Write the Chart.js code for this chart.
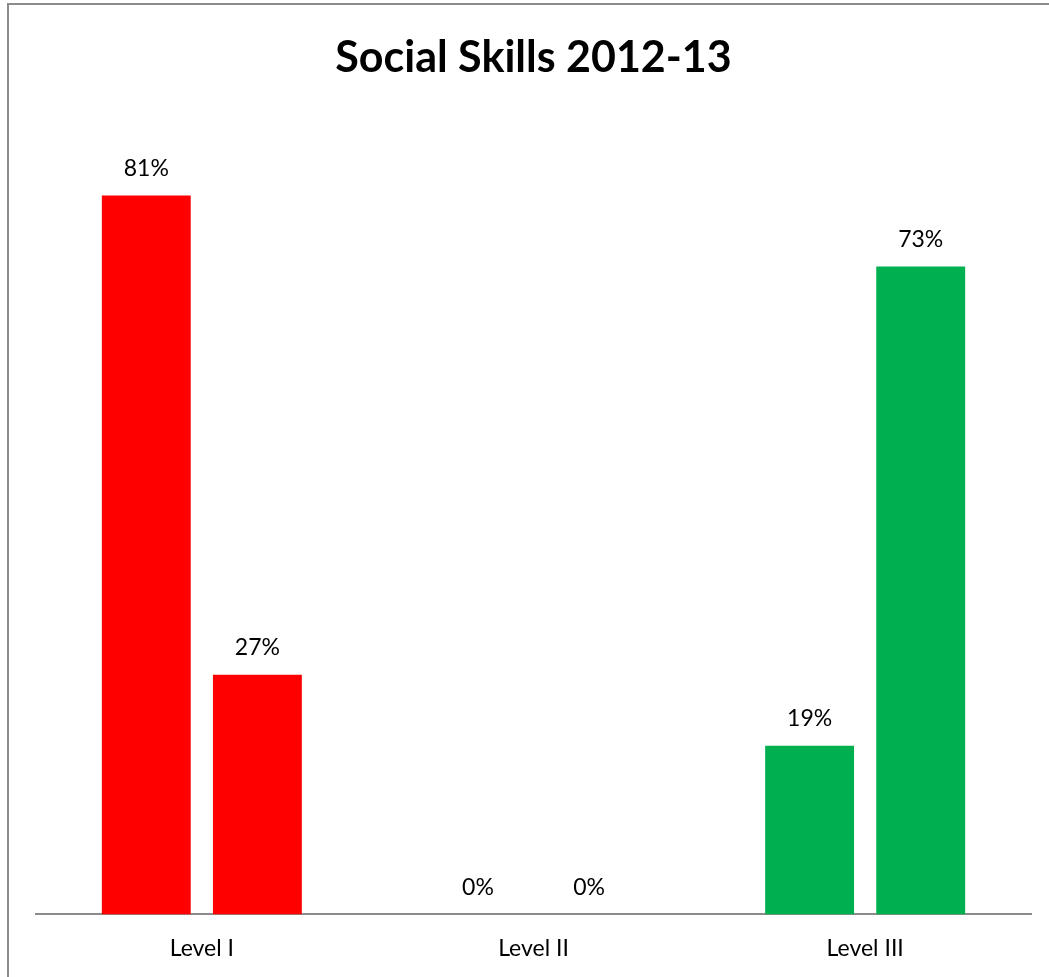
<!DOCTYPE html>
<html>
<head>
<meta charset="utf-8">
<script src="https://cdn.jsdelivr.net/npm/chart.js@4/dist/chart.umd.min.js"></script>
<style>
    html, body { margin: 0; padding: 0; background: #fff; overflow: hidden; }
    #wrap { position: absolute; left: 0; top: 0; width: 1049px; height: 977px; }
</style>
</head>
<body>
<div id="wrap"><canvas id="chart" width="1049" height="977"></canvas></div>
<script>
var categories = ['Level I', 'Level II', 'Level III'];
var seriesA = [81, 0, 19];
var seriesB = [27, 0, 73];
var barColors = ['#FF0000', '#FF0000', '#00B050'];
var chartTitle = 'Social Skills 2012-13';

var FONT = 'Lato, "Open Sans", sans-serif';

// outer frame of the chart object (right/bottom edges run off the page)
var framePlugin = {
    id: 'frame',
    beforeDraw: function (chart) {
        var ctx = chart.ctx;
        ctx.save();
        ctx.strokeStyle = '#8c8c8c';
        ctx.lineWidth = 2;
        ctx.strokeRect(8, 4, 1060, 1000);
        ctx.restore();
    }
};

// value labels above each bar
var valueLabels = {
    id: 'valueLabels',
    afterDatasetsDraw: function (chart) {
        var ctx = chart.ctx;
        ctx.save();
        ctx.font = '23px ' + FONT;
        ctx.fillStyle = '#000';
        ctx.textAlign = 'center';
        ctx.textBaseline = 'middle';
        chart.data.datasets.forEach(function (ds, i) {
            var meta = chart.getDatasetMeta(i);
            meta.data.forEach(function (bar, j) {
                ctx.fillText(ds.data[j] + '%', bar.x, bar.y - 27);
            });
        });
        ctx.restore();
    }
};

new Chart(document.getElementById('chart'), {
    type: 'bar',
    data: {
        labels: categories,
        datasets: [
            { label: 'Series 1', data: seriesA, backgroundColor: barColors, categoryPercentage: 0.67, barPercentage: 0.8 },
            { label: 'Series 2', data: seriesB, backgroundColor: barColors, categoryPercentage: 0.67, barPercentage: 0.8 }
        ]
    },
    options: {
        responsive: false,
        animation: false,
        layout: { padding: { left: 36, right: 18, top: 0, bottom: -5 } },
        plugins: {
            legend: { display: false },
            tooltip: { enabled: false },
            title: {
                display: true,
                text: chartTitle,
                color: '#000',
                font: { family: FONT, size: 43, weight: 'bold' },
                padding: { top: 32, bottom: 32 }
            }
        },
        scales: {
            x: {
                grid: { display: false, drawTicks: false },
                border: { display: true, color: '#8c8c8c', width: 2 },
                ticks: { color: '#000', font: { family: FONT, size: 23 }, padding: 20 }
            },
            y: {
                display: false,
                min: 0,
                max: 90
            }
        }
    },
    plugins: [framePlugin, valueLabels]
});
</script>
</body>
</html>
